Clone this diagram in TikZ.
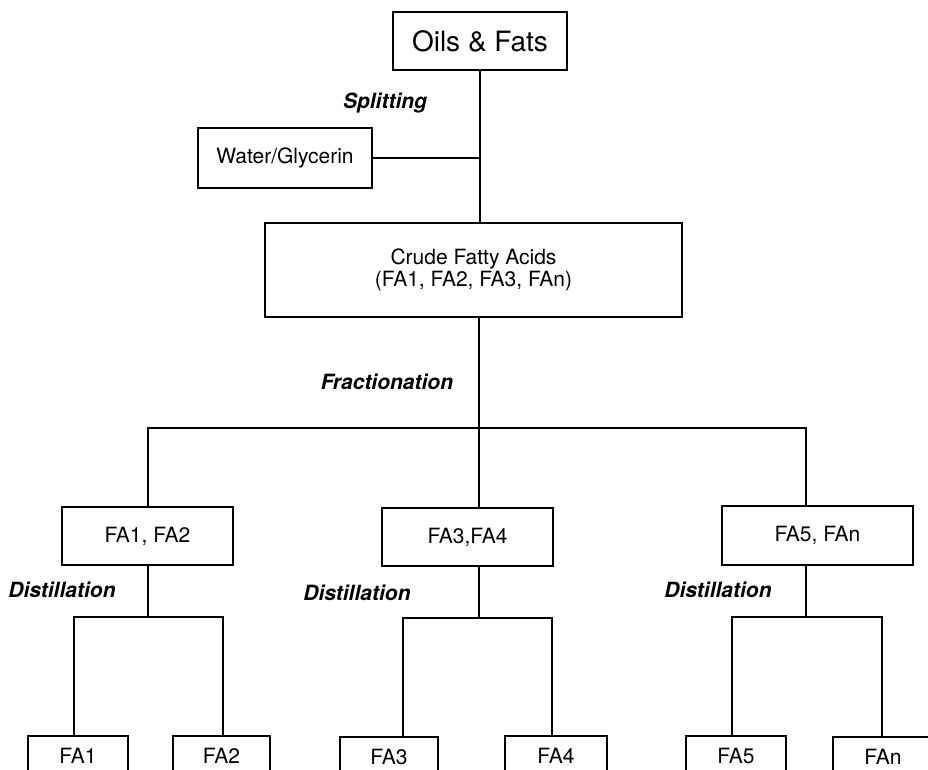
\documentclass[tikz,border=0pt]{standalone}
\usepackage{fontspec}
\setmainfont{TeX Gyre Heros}
\begin{document}
\begin{tikzpicture}[
  x=0.5pt, y=-0.5pt,
  ofline/.style = {line width=1.1pt, draw=black},
  ofbox/.style = {ofline, rectangle, inner sep=0pt, align=center,
    font=\fontsize{10.5}{11}\selectfont},
  ofsmall/.style = {ofbox, anchor=north, minimum height=20pt},
  oflbl/.style = {font=\fontsize{10.5}{12}\selectfont\bfseries\itshape}
]
  \clip (0,0) rectangle (928,770);
  \useasboundingbox (0,0) rectangle (928,770);
  % top part
  \node[ofbox, minimum width=87pt, minimum height=29pt,
    font=\fontsize{14}{16}\selectfont] (oils) at (480,41) {Oils \& Fats};
  \node[ofbox, minimum width=87pt, minimum height=30pt] (water) at (285,158) {Water/Glycerin};
  \node[ofbox, minimum width=208.5pt, minimum height=47pt] (crude) at (473.5,270)
    {Crude Fatty Acids\\(FA1, FA2, FA3, FAn)};
  \node[oflbl] (split) at (385,103) {Splitting};
  \draw[ofline] (oils.south) -- (oils.south |- crude.north);
  \draw[ofline] (water.east) -- (water.east -| oils.south);
  % fractionation
  \node[oflbl] (frac) at (387,382) {Fractionation};
  \node[ofbox, minimum width=85.5pt, minimum height=29pt] (fa12) at (147.5,536) {FA1, FA2};
  \node[ofbox, minimum width=85.5pt, minimum height=29pt] (fa34) at (467.5,537) {FA3,FA4};
  \node[ofbox, minimum width=95.5pt, minimum height=29.5pt] (fa5n) at (817.5,535.5) {FA5, FAn};
  \coordinate (fl) at (148,428);
  \coordinate (fm) at (479,428);
  \coordinate (fr) at (806,428);
  \draw[ofline] (crude.south -| fm) -- (fm);
  \draw[ofline] (fl |- fa12.north) -- (fl) -- (fr) -- (fr |- fa5n.north);
  \draw[ofline] (fm) -- (fm |- fa34.north);
  % distillation
  \node[oflbl] (dist1) at (62,590) {Distillation};
  \node[oflbl] (dist2) at (357,593) {Distillation};
  \node[oflbl] (dist3) at (718,590) {Distillation};
  \node[ofsmall, minimum width=50pt] (fa1) at (78,735) {FA1};
  \node[ofsmall, minimum width=48.5pt] (fa2) at (221.5,735) {FA2};
  \node[ofsmall, minimum width=49pt] (fa3) at (389,736) {FA3};
  \node[ofsmall, minimum width=51pt] (fa4) at (556,735) {FA4};
  \node[ofsmall, minimum width=50pt] (fa5) at (736,735) {FA5};
  \node[ofsmall, minimum width=50pt] (fan) at (883,736) {FAn};
  \coordinate (d1l) at (74,617);  \coordinate (d1r) at (223,617);
  \coordinate (d2l) at (403,618); \coordinate (d2r) at (552,618);
  \coordinate (d3l) at (732,617); \coordinate (d3r) at (882,617);
  \draw[ofline] (fa12.south -| fl) -- (fl |- d1l);
  \draw[ofline] (fa34.south -| fm) -- (fm |- d2l);
  \draw[ofline] (fa5n.south -| fr) -- (fr |- d3l);
  \draw[ofline] (d1l |- fa1.north) -- (d1l) -- (d1r) -- (d1r |- fa2.north);
  \draw[ofline] (d2l |- fa3.north) -- (d2l) -- (d2r) -- (d2r |- fa4.north);
  \draw[ofline] (d3l |- fa5.north) -- (d3l) -- (d3r) -- (d3r |- fan.north);
\end{tikzpicture}
\end{document}
